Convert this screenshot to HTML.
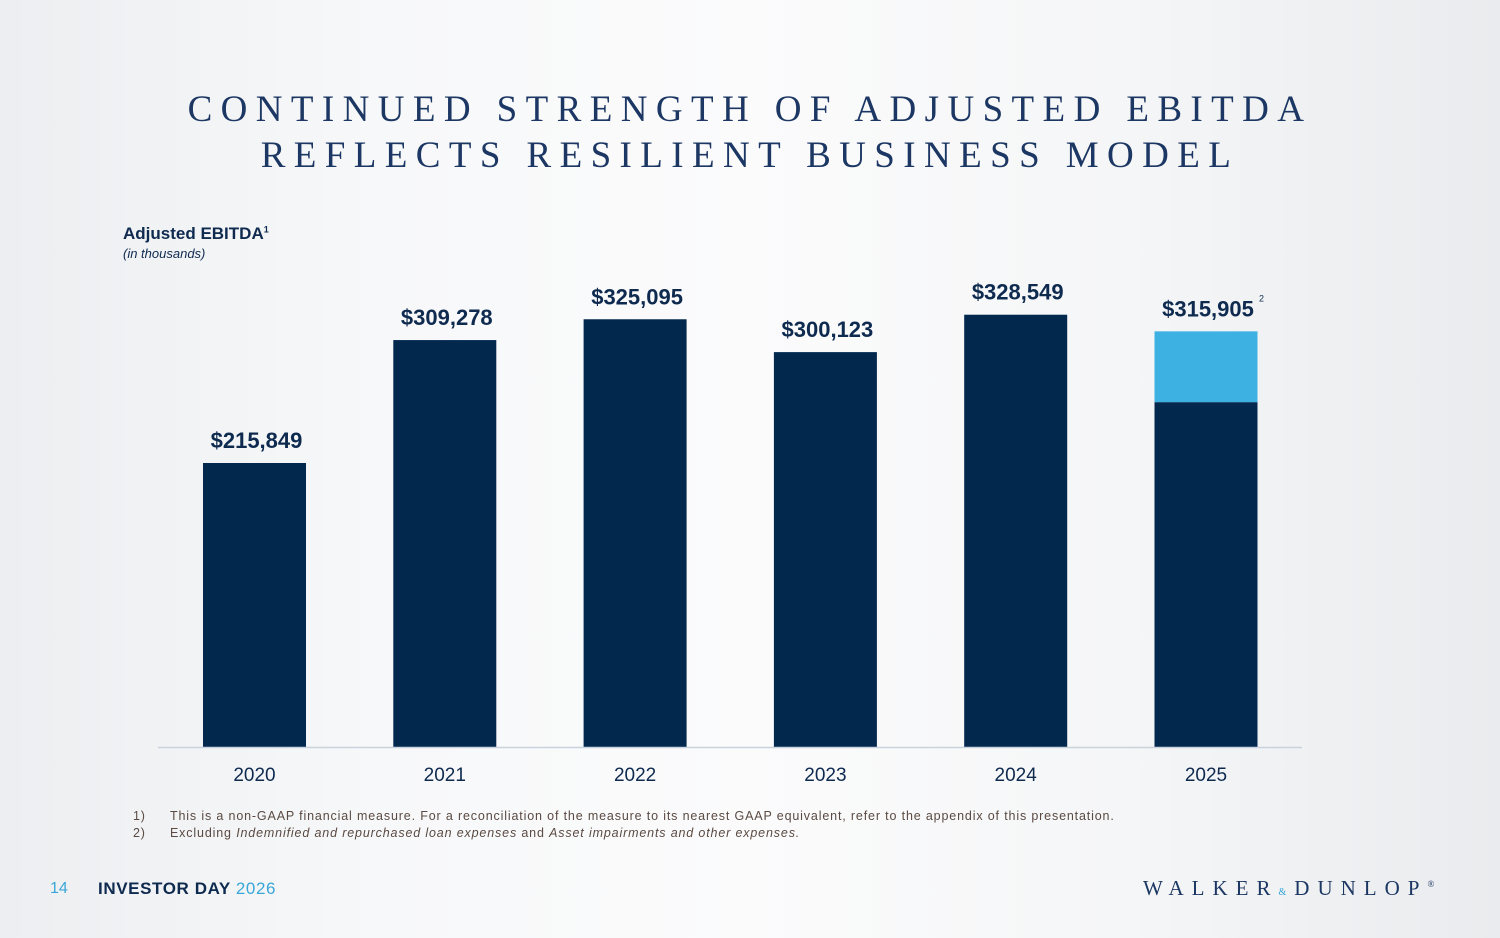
<!DOCTYPE html>
<html><head><meta charset="utf-8"><style>
body{margin:0;width:1500px;height:938px;overflow:hidden;font-family:"Liberation Sans",sans-serif;}
#slide{position:relative;width:1500px;height:938px;background:linear-gradient(90deg,#eceef1 0%,#f7f8f9 25%,#fbfbfc 50%,#f5f6f7 75%,#e9ebee 100%);}
.title{position:absolute;left:0;width:1500px;text-align:center;font-family:"Liberation Serif",serif;font-size:37px;letter-spacing:8.4px;color:#1c3763;}
.fn{position:absolute;left:133px;font-size:12.5px;letter-spacing:0.85px;color:#5a4a42;white-space:nowrap;}
</style></head><body>
<div id="slide">
<div class="title" style="top:88px">CONTINUED STRENGTH OF ADJUSTED EBITDA</div>
<div class="title" style="top:134px">REFLECTS RESILIENT BUSINESS MODEL</div>
<div style="position:absolute;left:123px;top:224px;font-size:17px;font-weight:bold;color:#0e2a4f">Adjusted EBITDA<sup style="font-size:9px">1</sup></div>
<div style="position:absolute;left:123px;top:246px;font-size:13px;font-style:italic;color:#0e2a4f">(in thousands)</div>
<svg id="chart" width="1500" height="938" style="position:absolute;left:0;top:0"></svg>
<div class="fn" style="top:809px">1)<span style="position:absolute;left:37px">This is a non-GAAP financial measure. For a reconciliation of the measure to its nearest GAAP equivalent, refer to the appendix of this presentation.</span></div>
<div class="fn" style="top:826px">2)<span style="position:absolute;left:37px">Excluding <i>Indemnified and repurchased loan expenses</i> and <i>Asset impairments and other expenses.</i></span></div>
<div style="position:absolute;left:50px;top:880px;font-size:16px;color:#3aa6d8">14</div>
<div style="position:absolute;left:98px;top:879px;font-size:17px;font-weight:bold;letter-spacing:0.6px;color:#0e2a4f">INVESTOR DAY <span style="color:#3aa6d8;font-weight:normal">2026</span></div>
<div style="position:absolute;left:1143px;top:876px;font-family:'Liberation Serif',serif;font-size:21px;letter-spacing:8px;color:#1c3763;white-space:nowrap">WALKER<span style="font-size:10px;color:#3aa6d8">&amp;</span>DUNLOP<sup style="font-size:9px">®</sup></div>
</div>
<script>
const categories=["2020","2021","2022","2023","2024","2025"];
const baseValues=[215849,309278,325095,300123,328549,262100];
const addedValues=[0,0,0,0,0,53805];
const totalLabels=["$215,849","$309,278","$325,095","$300,123","$328,549","$315,905"];
const NS="http://www.w3.org/2000/svg";
const svg=document.getElementById('chart');
const baseY=747,scale=284/215849,x0=254.5,step=190.3,bw=103;
const xc=i=>x0+i*step;
const y=v=>baseY-v*scale;
function mk(t,a){const e=document.createElementNS(NS,t);for(const k in a)e.setAttribute(k,a[k]);svg.appendChild(e);return e;}
categories.forEach((c,i)=>{
  const b=mk('rect',{x:xc(i)-bw/2,y:y(baseValues[i]),width:bw,height:baseValues[i]*scale,fill:'#02284e'});
  
  
  if(addedValues[i]>0){
    const a=mk('rect',{x:xc(i)-bw/2,y:y(baseValues[i]+addedValues[i]),width:bw,height:addedValues[i]*scale,fill:'#3eb1e3'});
    
    
  }
  const tot=baseValues[i]+addedValues[i];
  const t=mk('text',{x:xc(i)+2,y:y(tot)-15,'text-anchor':'middle','font-size':22,'font-weight':'bold',fill:'#0e2a4f','font-family':'Liberation Sans'});
  t.textContent=totalLabels[i];
  
  
  if(i===5){const s=mk('text',{x:xc(i)+53,y:y(tot)-30,'font-size':9,fill:'#0e2a4f'});s.textContent='2';
    
    }
  const l=mk('text',{x:xc(i),y:781,'text-anchor':'middle','font-size':19,fill:'#0e2a4f','font-family':'Liberation Sans'});
  l.textContent=c;
  
  
});
const ax=mk('line',{x1:158,x2:1302,y1:baseY+0.5,y2:baseY+0.5,stroke:'#c9d3de','stroke-width':1.5});


</script>
</body></html>
